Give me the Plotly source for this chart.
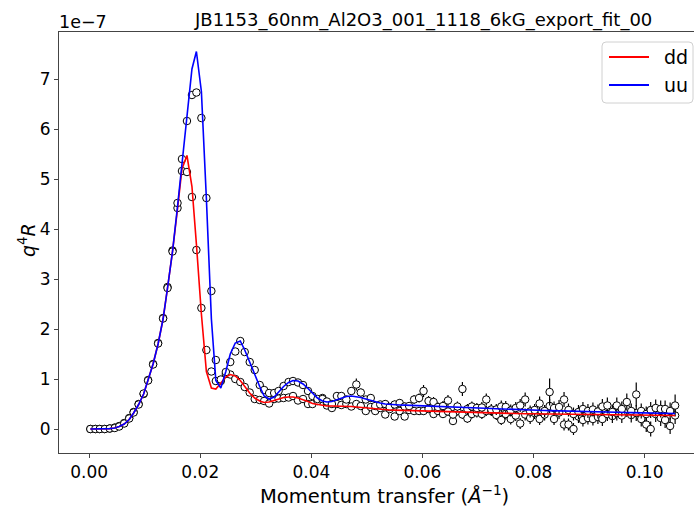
import plotly.graph_objects as go

# Momentum transfer (1/Angstrom)
q = [0.0002, 0.0011, 0.0019, 0.0028, 0.0037, 0.0046, 0.0054, 0.0063, 0.0072, 0.0080,
     0.0089, 0.0098, 0.0106, 0.0115, 0.0124, 0.0133, 0.0141, 0.0150, 0.0159, 0.0167,
     0.0176, 0.0185, 0.0193, 0.0202, 0.0211, 0.0220, 0.0228, 0.0237, 0.0246, 0.0254,
     0.0263, 0.0272, 0.0280, 0.0289, 0.0298, 0.0307, 0.0315, 0.0324, 0.0333, 0.0341,
     0.0350, 0.0359, 0.0367, 0.0376, 0.0385, 0.0394, 0.0402, 0.0411, 0.0420, 0.0428,
     0.0437, 0.0446, 0.0454, 0.0463, 0.0472, 0.0481, 0.0489, 0.0498, 0.0507, 0.0515,
     0.0524, 0.0533, 0.0541, 0.0550, 0.0559, 0.0568, 0.0576, 0.0585, 0.0594, 0.0602,
     0.0611, 0.0620, 0.0628, 0.0637, 0.0646, 0.0655, 0.0663, 0.0672, 0.0681, 0.0689,
     0.0698, 0.0707, 0.0715, 0.0724, 0.0733, 0.0742, 0.0750, 0.0759, 0.0768, 0.0776,
     0.0785, 0.0794, 0.0802, 0.0811, 0.0820, 0.0829, 0.0837, 0.0846, 0.0855, 0.0863,
     0.0872, 0.0881, 0.0889, 0.0898, 0.0907, 0.0916, 0.0924, 0.0933, 0.0942, 0.0950,
     0.0959, 0.0968, 0.0976, 0.0985, 0.0994, 0.1003, 0.1011, 0.1020, 0.1029, 0.1037,
     0.1046, 0.1055]

# q^4 R in units of 1e-7
dd_data = [0.0, 0.0, 0.0, 0.0, 0.01, 0.03, 0.06, 0.12, 0.22, 0.34,
           0.50, 0.70, 0.98, 1.30, 1.72, 2.22, 2.84, 3.57, 4.42, 5.16,
           5.14, 4.64, 3.58, 2.42, 1.58, 1.15, 0.96, 0.96, 1.10, 1.09,
           1.00, 0.94, 0.84, 0.73, 0.60, 0.58, 0.56, 0.51, 0.60, 0.61,
           0.62, 0.63, 0.66, 0.57, 0.60, 0.50, 0.50, 0.56, 0.62, 0.47,
           0.42, 0.50, 0.48, 0.50, 0.45, 0.50, 0.46, 0.36, 0.44, 0.36,
           0.42, 0.29, 0.40, 0.25, 0.36, 0.25, 0.38, 0.36, 0.36, 0.36,
           0.40, 0.30, 0.36, 0.30, 0.35, 0.16, 0.36, 0.29, 0.21, 0.30,
           0.33, 0.30, 0.36, 0.36, 0.28, 0.18, 0.30, 0.20, 0.27, 0.11,
           0.29, 0.22, 0.32, 0.20, 0.29, 0.46, 0.20, 0.33, 0.09, 0.09,
           0.00, 0.25, 0.18, 0.22, 0.20, 0.24, 0.20, 0.30, 0.26, 0.32,
           0.27, 0.40, 0.28, 0.32, 0.20, 0.09, 0.00, 0.30, 0.22, 0.18,
           0.06, 0.27]

uu_data = [0.0, 0.0, 0.0, 0.0, 0.01, 0.02, 0.05, 0.11, 0.21, 0.33,
           0.49, 0.71, 0.97, 1.29, 1.71, 2.21, 2.82, 3.55, 4.52, 5.40,
           6.16, 6.68, 6.73, 6.22, 4.62, 2.76, 1.38, 0.99, 1.14, 1.34,
           1.55, 1.76, 1.54, 1.34, 1.18, 0.88, 0.78, 0.72, 0.72, 0.76,
           0.86, 0.94, 0.96, 0.93, 0.88, 0.76, 0.66, 0.60, 0.60, 0.55,
           0.50, 0.66, 0.66, 0.59, 0.76, 0.89, 0.73, 0.59, 0.62, 0.46,
           0.49, 0.50, 0.44, 0.49, 0.52, 0.45, 0.46, 0.59, 0.62, 0.76,
           0.56, 0.54, 0.44, 0.46, 0.57, 0.29, 0.45, 0.80, 0.40, 0.45,
           0.42, 0.43, 0.59, 0.39, 0.39, 0.45, 0.44, 0.37, 0.42, 0.47,
           0.59, 0.35, 0.38, 0.51, 0.36, 0.74, 0.42, 0.44, 0.59, 0.38,
           0.30, 0.34, 0.40, 0.36, 0.39, 0.35, 0.45, 0.47, 0.34, 0.47,
           0.40, 0.54, 0.36, 0.69, 0.36, 0.30, 0.38, 0.42, 0.40, 0.40,
           0.36, 0.47]

dd_err = [0.01, 0.01, 0.01, 0.01, 0.01, 0.01, 0.01, 0.01, 0.01, 0.01,
          0.02, 0.02, 0.02, 0.02, 0.02, 0.03, 0.03, 0.03, 0.04, 0.04,
          0.04, 0.04, 0.03, 0.03, 0.02, 0.02, 0.02, 0.02, 0.02, 0.02,
          0.02, 0.02, 0.02, 0.02, 0.02, 0.02, 0.02, 0.02, 0.03, 0.03,
          0.03, 0.03, 0.03, 0.03, 0.03, 0.03, 0.04, 0.04, 0.05, 0.04,
          0.04, 0.05, 0.05, 0.05, 0.05, 0.05, 0.05, 0.05, 0.06, 0.06,
          0.06, 0.06, 0.06, 0.06, 0.07, 0.07, 0.07, 0.07, 0.07, 0.08,
          0.08, 0.08, 0.08, 0.08, 0.09, 0.08, 0.09, 0.09, 0.09, 0.09,
          0.10, 0.10, 0.10, 0.10, 0.10, 0.10, 0.11, 0.11, 0.11, 0.11,
          0.12, 0.12, 0.12, 0.12, 0.12, 0.14, 0.12, 0.13, 0.12, 0.12,
          0.12, 0.13, 0.13, 0.13, 0.13, 0.14, 0.14, 0.14, 0.14, 0.15,
          0.15, 0.16, 0.15, 0.16, 0.15, 0.15, 0.15, 0.16, 0.16, 0.16,
          0.16, 0.17]

uu_err = [0.01, 0.01, 0.01, 0.01, 0.01, 0.01, 0.01, 0.01, 0.01, 0.01,
          0.02, 0.02, 0.02, 0.02, 0.02, 0.03, 0.03, 0.03, 0.04, 0.04,
          0.05, 0.05, 0.05, 0.05, 0.04, 0.03, 0.02, 0.02, 0.02, 0.02,
          0.03, 0.03, 0.03, 0.03, 0.03, 0.03, 0.03, 0.03, 0.03, 0.03,
          0.03, 0.03, 0.03, 0.03, 0.03, 0.03, 0.05, 0.05, 0.05, 0.05,
          0.06, 0.06, 0.06, 0.07, 0.08, 0.12, 0.08, 0.07, 0.08, 0.07,
          0.07, 0.08, 0.07, 0.08, 0.08, 0.08, 0.08, 0.09, 0.09, 0.12,
          0.10, 0.10, 0.09, 0.10, 0.11, 0.09, 0.10, 0.14, 0.10, 0.10,
          0.10, 0.11, 0.12, 0.11, 0.11, 0.12, 0.12, 0.12, 0.12, 0.13,
          0.14, 0.12, 0.12, 0.14, 0.12, 0.27, 0.13, 0.14, 0.15, 0.13,
          0.13, 0.14, 0.14, 0.14, 0.14, 0.14, 0.15, 0.16, 0.15, 0.16,
          0.15, 0.17, 0.15, 0.24, 0.15, 0.15, 0.16, 0.17, 0.17, 0.17,
          0.17, 0.22]

dd_fit = [0.0, 0.0, 0.0, 0.002, 0.008, 0.02, 0.05, 0.10, 0.19, 0.32,
          0.49, 0.70, 0.97, 1.30, 1.70, 2.20, 2.82, 3.55, 4.40, 5.20,
          5.47, 4.85, 3.70, 2.30, 1.15, 0.82, 0.80, 0.92, 1.04, 1.09,
          1.06, 0.97, 0.85, 0.72, 0.62, 0.56, 0.53, 0.54, 0.57, 0.60,
          0.63, 0.64, 0.64, 0.62, 0.59, 0.55, 0.51, 0.49, 0.47, 0.46,
          0.46, 0.46, 0.46, 0.46, 0.45, 0.44, 0.43, 0.42, 0.41, 0.40,
          0.39, 0.385, 0.38, 0.378, 0.375, 0.37, 0.366, 0.362, 0.358, 0.354,
          0.35, 0.347, 0.344, 0.341, 0.338, 0.335, 0.333, 0.331, 0.329, 0.327,
          0.325, 0.323, 0.321, 0.319, 0.317, 0.315, 0.313, 0.311, 0.309, 0.307,
          0.305, 0.304, 0.303, 0.302, 0.301, 0.300, 0.299, 0.298, 0.297, 0.296,
          0.295, 0.294, 0.293, 0.292, 0.291, 0.290, 0.289, 0.288, 0.287, 0.286,
          0.285, 0.284, 0.283, 0.282, 0.281, 0.280, 0.279, 0.277, 0.275, 0.273,
          0.271, 0.270]

uu_fit = [0.0, 0.0, 0.0, 0.002, 0.008, 0.02, 0.05, 0.10, 0.19, 0.32,
          0.49, 0.70, 0.97, 1.30, 1.70, 2.20, 2.82, 3.55, 4.45, 5.30,
          6.20, 7.20, 7.55, 6.75, 4.60, 2.20, 0.97, 0.82, 1.15, 1.50,
          1.72, 1.76, 1.58, 1.33, 1.08, 0.85, 0.66, 0.60, 0.64, 0.74,
          0.85, 0.93, 0.97, 0.96, 0.90, 0.81, 0.71, 0.62, 0.56, 0.54,
          0.55, 0.58, 0.62, 0.65, 0.66, 0.65, 0.63, 0.60, 0.57, 0.54,
          0.52, 0.50, 0.49, 0.485, 0.48, 0.478, 0.475, 0.472, 0.47, 0.468,
          0.465, 0.462, 0.46, 0.456, 0.452, 0.448, 0.444, 0.44, 0.435, 0.43,
          0.425, 0.42, 0.415, 0.41, 0.405, 0.40, 0.396, 0.392, 0.388, 0.385,
          0.382, 0.379, 0.376, 0.373, 0.37, 0.367, 0.364, 0.361, 0.358, 0.355,
          0.352, 0.349, 0.347, 0.345, 0.343, 0.341, 0.339, 0.337, 0.335, 0.333,
          0.331, 0.329, 0.327, 0.325, 0.323, 0.321, 0.319, 0.317, 0.315, 0.313,
          0.311, 0.310]

x_tickvals = [0.00, 0.02, 0.04, 0.06, 0.08, 0.10]
x_ticktext = ["0.00", "0.02", "0.04", "0.06", "0.08", "0.10"]
y_tickvals = [0, 1, 2, 3, 4, 5, 6, 7]
y_ticktext = ["0", "1", "2", "3", "4", "5", "6", "7"]

series_names = ["dd", "uu"]
series_colors = ["#ff0000", "#0000ff"]

title_text = "JB1153_60nm_Al2O3_001_1118_6kG_export_fit_00"
FONT = "DejaVu Sans"

# plot area in figure pixels
PX_L, PX_R, PX_T, PX_B = 59, 694, 32, 453


def px(x):
    return (x - PX_L) / (PX_R - PX_L)


def py(y):
    return (PX_B - y) / (PX_B - PX_T)


fig = go.Figure()

marker_style = dict(symbol="circle", size=7.5, color="white",
                    line=dict(color="black", width=1))

for ys, es in ((dd_data, dd_err), (uu_data, uu_err)):
    fig.add_trace(go.Scatter(
        x=q, y=ys, mode="markers", marker=marker_style, showlegend=False,
        error_y=dict(type="data", array=es, visible=True, color="black",
                     thickness=1.2, width=0),
        hoverinfo="skip"))

for name, fit, col in zip(series_names, (dd_fit, uu_fit), series_colors):
    fig.add_trace(go.Scatter(x=q, y=fit, mode="lines", name=name,
                             showlegend=False,
                             line=dict(color=col, width=1.6)))

axis_common = dict(showgrid=False, zeroline=False, showline=True,
                   linecolor="#444", linewidth=1, ticks="outside", ticklen=4,
                   tickcolor="#444", tickwidth=1,
                   tickfont=dict(family=FONT, size=17, color="black"))

# legend drawn as a rounded box with line samples and labels
bx0, bx1, by0, by1, r = px(602), px(693), py(42), py(103), 4
rx = r / (PX_R - PX_L)
ry = r / (PX_B - PX_T)
box_path = (f"M{bx0 + rx},{by0} L{bx1 - rx},{by0} Q{bx1},{by0} {bx1},{by0 - ry} "
            f"L{bx1},{by1 + ry} Q{bx1},{by1} {bx1 - rx},{by1} "
            f"L{bx0 + rx},{by1} Q{bx0},{by1} {bx0},{by1 + ry} "
            f"L{bx0},{by0 - ry} Q{bx0},{by0} {bx0 + rx},{by0} Z")
shapes = [dict(type="path", xref="paper", yref="paper", path=box_path,
               line=dict(color="#d0d0d0", width=1), fillcolor="white",
               layer="above")]
annotations = []
for k, (name, col) in enumerate(zip(series_names, series_colors)):
    yy = py(57 + 28 * k)
    shapes.append(dict(type="line", xref="paper", yref="paper",
                       x0=px(609), x1=px(649), y0=yy, y1=yy,
                       line=dict(color=col, width=1.8), layer="above"))
    annotations.append(dict(text=name, xref="paper", yref="paper",
                            x=px(662), y=yy, xanchor="left",
                            yanchor="middle", showarrow=False,
                            font=dict(family=FONT, size=19, color="black")))

annotations += [
    dict(text=title_text, xref="paper", yref="paper", x=px(423), y=py(20),
         xanchor="center", yanchor="middle", showarrow=False,
         font=dict(family=FONT, size=18, color="black")),
    dict(text="1e\u22127", xref="paper", yref="paper", x=px(57), y=py(22),
         xanchor="left", yanchor="middle", showarrow=False,
         font=dict(family=FONT, size=17.5, color="black")),
    dict(text="<i>q</i><sup>4</sup><i>R</i>", xref="paper", yref="paper",
         x=px(27), y=py(240), xanchor="center", yanchor="middle",
         textangle=-90, showarrow=False,
         font=dict(family=FONT, size=19, color="black")),
    dict(text="Momentum transfer (<i>\u00c5</i><sup>\u22121</sup>)",
         xref="paper", yref="paper", x=px(384), y=py(495),
         xanchor="center", yanchor="middle", showarrow=False,
         font=dict(family=FONT, size=19.5, color="black")),
]

fig.update_layout(
    width=694, height=507,
    margin=dict(l=PX_L, r=694 - PX_R, t=PX_T, b=507 - PX_B),
    paper_bgcolor="white", plot_bgcolor="white",
    font=dict(family=FONT, color="black"),
    xaxis=dict(range=[-0.00544, 0.1089], tickvals=x_tickvals,
               ticktext=x_ticktext, mirror=True, **axis_common),
    yaxis=dict(range=[-0.48, 7.94], tickvals=y_tickvals,
               ticktext=y_ticktext, **axis_common),
    showlegend=False,
    shapes=shapes,
    annotations=annotations,
)

fig.write_html("out.html",
               config={"displayModeBar": False},
               post_script="document.body.style.margin='0';"
                           "document.body.style.overflow='hidden';")
